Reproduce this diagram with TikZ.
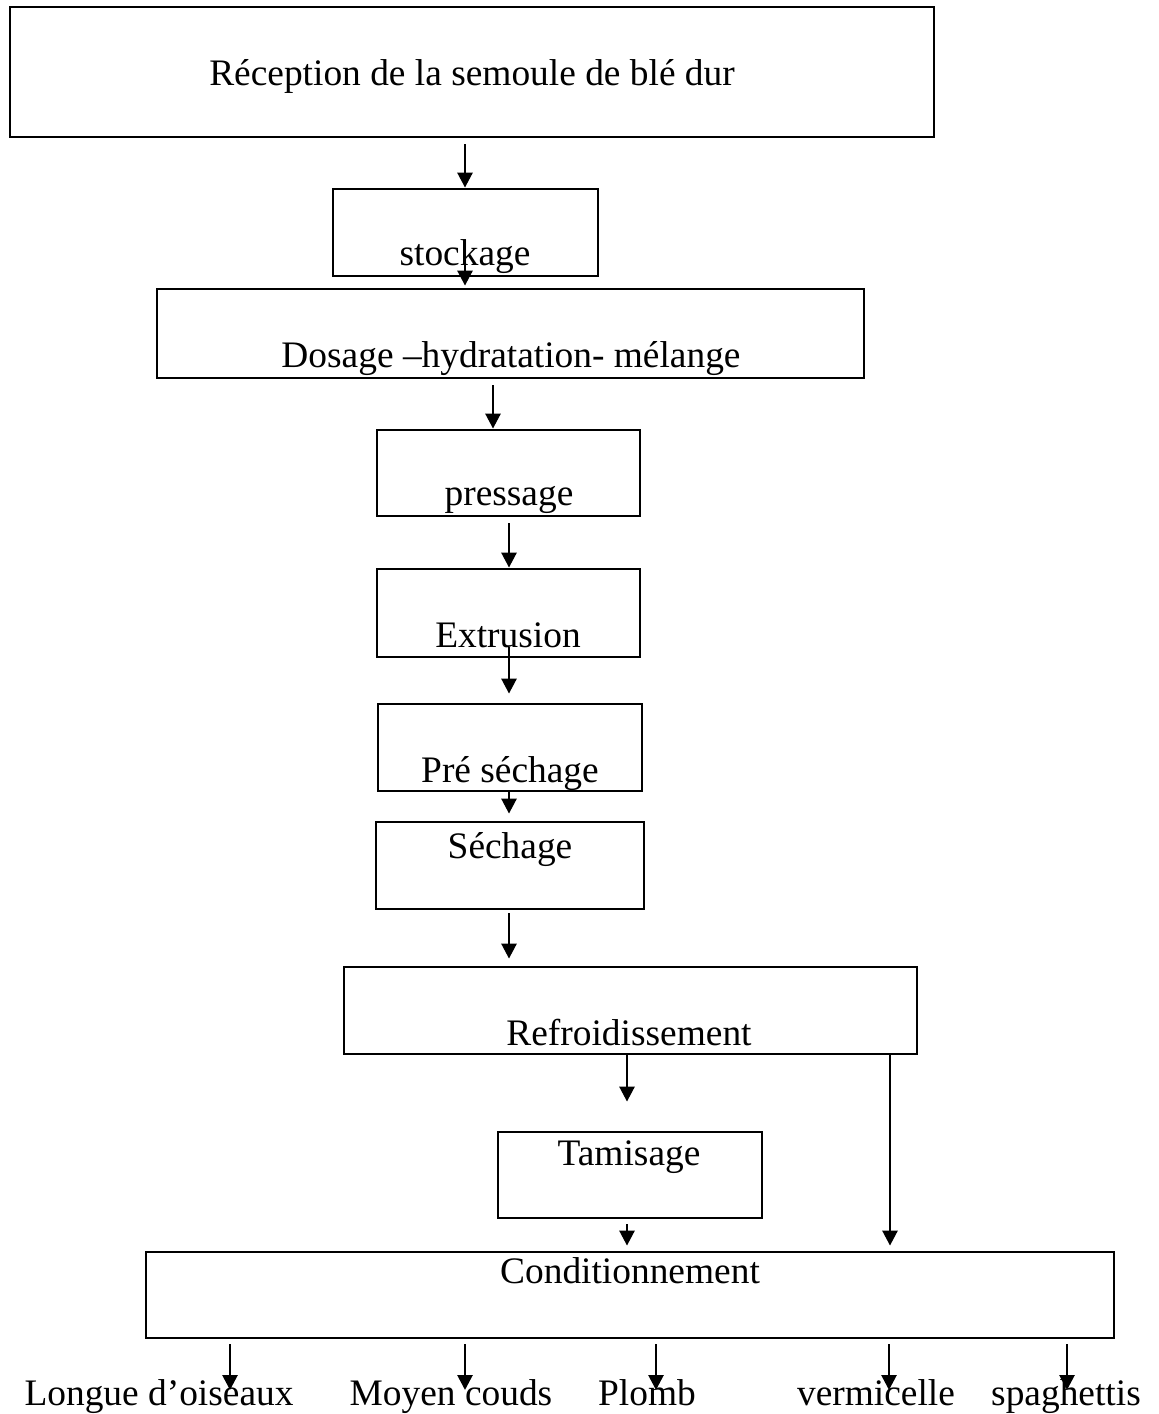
\documentclass[tikz,border=0pt]{standalone}
\usepackage{fontspec}
\setmainfont{Liberation Serif}
\usetikzlibrary{arrows.meta,fit}
\begin{document}
\begin{tikzpicture}[x=0.5pt,y=-0.5pt,
  box/.style={draw,line width=1.4pt,inner sep=0pt},
  txt/.style={anchor=base,inner sep=0pt,font=\fontsize{18.7pt}{22pt}\selectfont},
  arr/.style={line width=1.35pt,-{Triangle[width=7.5pt,length=7.5pt]}}]
\useasboundingbox (0,0) rectangle (1159,1414);
% boxes
\node[box,fit={(10,7) (934,137)}] (rec) {};
\node[box,fit={(333,189) (598,276)}] (stock) {};
\node[box,fit={(157,289) (864,378)}] (dos) {};
\node[box,fit={(377,430) (640,516)}] (press) {};
\node[box,fit={(377,569) (640,657)}] (extr) {};
\node[box,fit={(378,704) (642,791)}] (pre) {};
\node[box,fit={(376,822) (644,909)}] (sech) {};
\node[box,fit={(344,967) (917,1054)}] (refr) {};
\node[box,fit={(498,1132) (762,1218)}] (tam) {};
\node[box,fit={(146,1252) (1114,1338)}] (cond) {};
% texts
\node[txt] (trec) at (472,85) {Réception de la semoule de blé dur};
\node[txt] (tstock) at (465,265) {stockage};
\node[txt] (tdos) at (511,367) {Dosage –hydratation- mélange};
\node[txt] (tpress) at (509,505) {pressage};
\node[txt] (textr) at (508,647) {Extrusion};
\node[txt] (tpre) at (510,782) {Pré séchage};
\node[txt] (tsech) at (510,858) {Séchage};
\node[txt] (trefr) at (629,1045) {Refroidissement};
\node[txt] (ttam) at (629,1165) {Tamisage};
\node[txt] (tcond) at (630,1283) {Conditionnement};
\node[txt] (l1) at (159,1405) {Longue d’oiseaux};
\node[txt] (l2) at (451,1405) {Moyen couds};
\node[txt] (l3) at (647,1405) {Plomb};
\node[txt] (l4) at (876,1405) {vermicelle};
\node[txt] (l5) at (1066,1405) {spaghettis};
% arrow columns
\coordinate (c1) at (465,0);
\coordinate (c3) at (493,0);
\coordinate (c4) at (509,0);
\coordinate (c8) at (627,0);
\coordinate (c10) at (890,0);
\coordinate (b1) at (230,0);
\coordinate (b2) at (465,0);
\coordinate (b3) at (656,0);
\coordinate (b4) at (889,0);
\coordinate (b5) at (1067,0);
% arrows
\draw[arr,shorten <=3pt] (rec.south -| c1) -- (stock.north -| c1);
\draw[arr,shorten >=1pt] (tstock.base -| c1) -- (dos.north -| c1);
\draw[arr,shorten <=3pt] (dos.south -| c3) -- (press.north -| c3);
\draw[arr,shorten <=3pt] (press.south -| c4) -- (extr.north -| c4);
\draw[arr,shorten >=4.5pt] (textr.base -| c4) -- (pre.north -| c4);
\draw[arr,shorten >=3.5pt] (pre.south -| c4) -- (sech.north -| c4);
\draw[arr,shorten <=1.5pt,shorten >=3.5pt] (sech.south -| c4) -- (refr.north -| c4);
\draw[arr,shorten >=14.5pt] (refr.south -| c8) -- (tam.north -| c8);
\draw[arr,shorten <=2.5pt,shorten >=2.5pt] (tam.south -| c8) -- (cond.north -| c8);
\draw[arr,shorten >=2.5pt] (refr.south -| c10) -- (cond.north -| c10);
\draw[arr,shorten <=2.5pt,shorten >=7.5pt] (cond.south -| b1) -- (l1.base -| b1);
\draw[arr,shorten <=2.5pt,shorten >=7.5pt] (cond.south -| b2) -- (l2.base -| b2);
\draw[arr,shorten <=2.5pt,shorten >=7.5pt] (cond.south -| b3) -- (l3.base -| b3);
\draw[arr,shorten <=2.5pt,shorten >=7.5pt] (cond.south -| b4) -- (l4.base -| b4);
\draw[arr,shorten <=2.5pt,shorten >=7.5pt] (cond.south -| b5) -- (l5.base -| b5);
\end{tikzpicture}
\end{document}
